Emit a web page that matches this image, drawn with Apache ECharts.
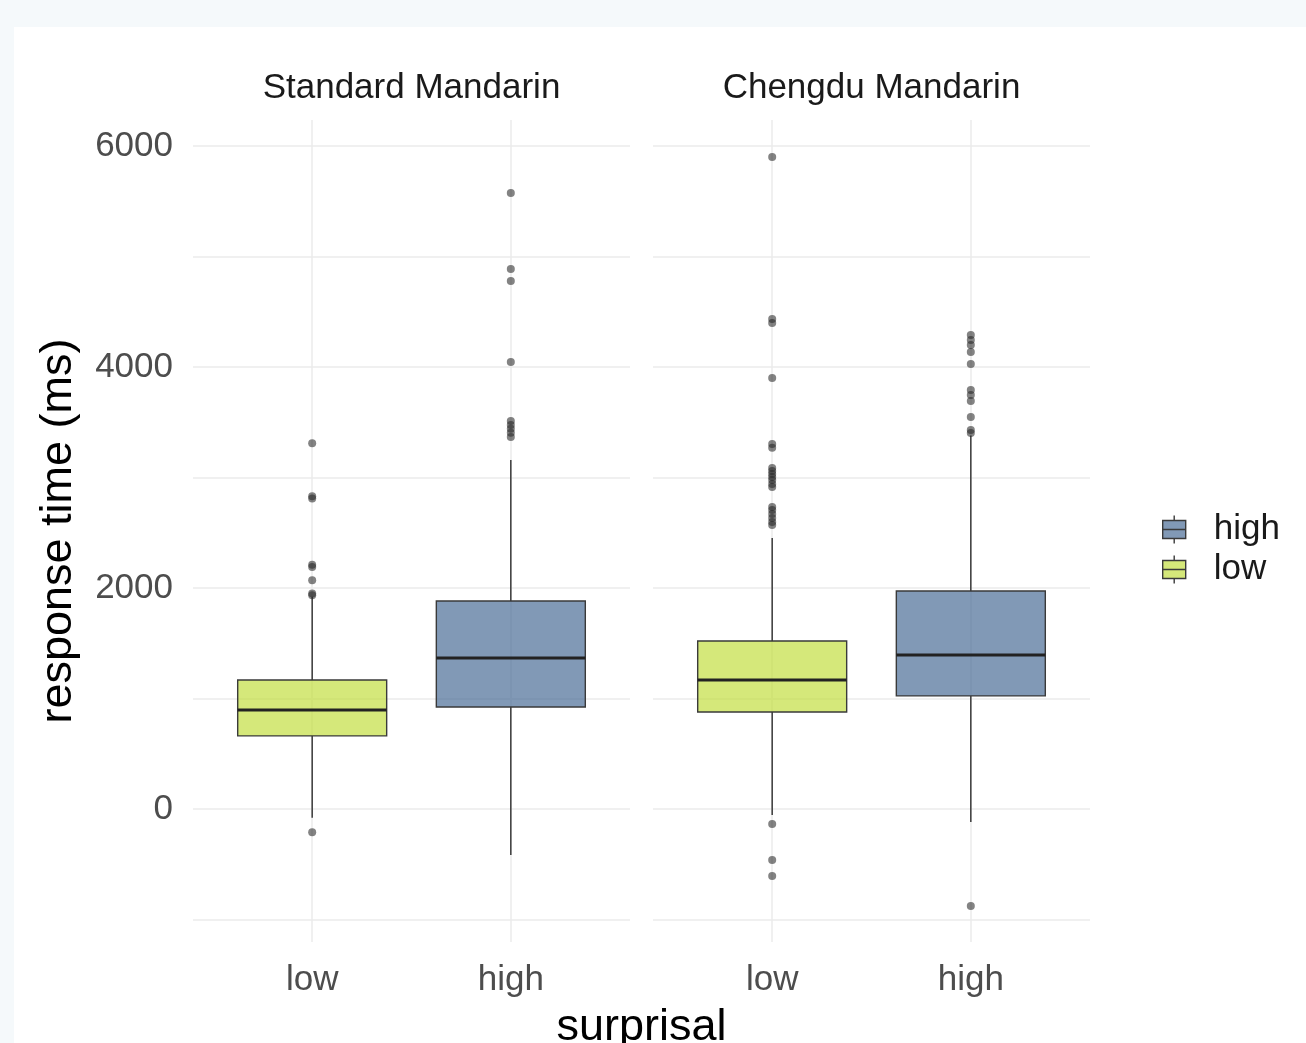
<!DOCTYPE html>
<html>
<head>
<meta charset="utf-8">
<script src="https://cdn.jsdelivr.net/npm/echarts@6/dist/echarts.min.js"></script>
<style>
  html, body { margin: 0; padding: 0; background: #f5f9fb; }
  #card { position: absolute; left: 14px; top: 27px; right: 0; bottom: 0; background: #ffffff; }
  #chart { position: absolute; left: 0; top: 0; width: 1306px; height: 1043px; }
</style>
</head>
<body>
<div id="card"></div>
<div id="chart"></div>
<script>
// ---- data ----
const categories = ['low', 'high'];
const facets = ['Standard Mandarin', 'Chengdu Mandarin'];
const yTickLabels = [0, 2000, 4000, 6000];
const yGridValues = [-1000, 0, 1000, 2000, 3000, 4000, 5000, 6000];

// [lower whisker, Q1, median, Q3, upper whisker]
const stdLowBox  = [-80, 661, 896, 1167, 1920];
const stdHighBox = [-416, 923, 1367, 1882, 3158];
const cdLowBox   = [-54, 878, 1167, 1520, 2452];
const cdHighBox  = [-118, 1023, 1394, 1973, 3380];

const stdLowOut  = [3310, 2830, 2810, 2210, 2190, 2070, 1950, 1935, -210];
const stdHighOut = [5575, 4887, 4778, 4045, 3511, 3475, 3440, 3405, 3367];
const cdLowOut   = [5900, 4434, 4398, 3900, 3303, 3270, 3086, 3059, 3032, 3005, 2977, 2941, 2914,
                    2733, 2706, 2670, 2633, 2597, 2570, -136, -462, -606];
const cdHighOut  = [4290, 4244, 4199, 4136, 4027, 3792, 3747, 3692, 3548, 3430, 3403, -878];

// ---- styling ----
const FONT = "'Liberation Sans', Arial, Helvetica, sans-serif";
const lowColor = 'rgba(195,222,65,0.7)';
const highColor = 'rgba(75,109,151,0.7)';
const gridColor = '#ebebeb';

const chart = echarts.init(document.getElementById('chart'), null, { renderer: 'canvas' });

function renderBox(params, api) {
  const x = api.value(0);
  const lo = api.coord([x, api.value(1)]);
  const q1 = api.coord([x, api.value(2)]);
  const med = api.coord([x, api.value(3)]);
  const q3 = api.coord([x, api.value(4)]);
  const hi = api.coord([x, api.value(5)]);
  const half = api.size([0.375, 0])[0];
  const cx = q1[0];
  const fill = api.visual('color');
  return {
    type: 'group',
    children: [
      { type: 'line', shape: { x1: cx, y1: q3[1], x2: cx, y2: hi[1] }, style: { stroke: '#3a3a3a', lineWidth: 1.5 } },
      { type: 'line', shape: { x1: cx, y1: q1[1], x2: cx, y2: lo[1] }, style: { stroke: '#3a3a3a', lineWidth: 1.5 } },
      { type: 'rect', shape: { x: cx - half, y: q3[1], width: 2 * half, height: q1[1] - q3[1] },
        style: { fill: fill, stroke: '#3a3a3a', lineWidth: 1.4 } },
      { type: 'line', shape: { x1: cx - half, y1: med[1], x2: cx + half, y2: med[1] }, style: { stroke: '#222', lineWidth: 3 } }
    ]
  };
}

const gridLefts = [193, 653];
const grids = gridLefts.map(l => ({ left: l, width: 437, top: 120, height: 822 }));

const xAxes = grids.map((g, i) => ({
  gridIndex: i, type: 'value', min: 0.4, max: 2.6,
  axisLine: { show: false },
  axisTick: { show: false, customValues: [1, 2] },
  axisLabel: { customValues: [1, 2], formatter: v => categories[Math.round(v) - 1],
               fontSize: 35, color: '#4d4d4d', fontFamily: FONT, margin: 21 },
  splitLine: { show: true, lineStyle: { color: gridColor, width: 1.5 } }
}));

const yAxes = grids.map((g, i) => ({
  gridIndex: i, type: 'value', min: -1204, max: 6235,
  axisLine: { show: false },
  axisTick: { show: false, customValues: yGridValues },
  axisLabel: { show: i === 0, customValues: yTickLabels, formatter: v => String(v),
               fontSize: 35, color: '#4d4d4d', fontFamily: FONT, margin: 20 },
  splitLine: { show: true, lineStyle: { color: gridColor, width: 1.5 } },
  name: i === 0 ? 'response time (ms)' : '',
  nameLocation: 'middle', nameRotate: 90, nameGap: 112,
  nameTextStyle: { fontSize: 45, color: '#000', fontFamily: FONT }
}));

function boxSeries(name, idx, xPos, box, color) {
  return {
    type: 'custom', name: name, xAxisIndex: idx, yAxisIndex: idx,
    itemStyle: { color: color },
    renderItem: renderBox,
    encode: { x: 0, y: [1, 2, 3, 4, 5] },
    data: [[xPos].concat(box)],
    z: 3
  };
}
function outSeries(idx, xPos, vals) {
  return {
    type: 'scatter', name: 'outliers', xAxisIndex: idx, yAxisIndex: idx,
    symbolSize: 8, itemStyle: { color: 'rgba(40,40,40,0.72)' },
    data: vals.map(v => [xPos, v]), z: 4
  };
}

const series = [
  boxSeries('low', 0, 1, stdLowBox, lowColor),
  boxSeries('high', 0, 2, stdHighBox, highColor),
  boxSeries('low', 1, 1, cdLowBox, lowColor),
  boxSeries('high', 1, 2, cdHighBox, highColor),
  outSeries(0, 1, stdLowOut),
  outSeries(0, 2, stdHighOut),
  outSeries(1, 1, cdLowOut),
  outSeries(1, 2, cdHighOut)
];

const legendIcon = 'path://M11.5,0L11.5,5M0,5L23,5L23,14L0,14ZM0,14L23,14L23,23L0,23ZM11.5,23L11.5,28M46,0L46,0';

chart.setOption({
  animation: false,
  backgroundColor: 'transparent',
  textStyle: { fontFamily: FONT },
  title: [
    { text: facets[0], left: 411.5, top: 71, textAlign: 'center', padding: 0,
      textStyle: { fontSize: 35, fontWeight: 'normal', color: '#1a1a1a', fontFamily: FONT } },
    { text: facets[1], left: 871.5, top: 71, textAlign: 'center', padding: 0,
      textStyle: { fontSize: 35, fontWeight: 'normal', color: '#1a1a1a', fontFamily: FONT } },
    { text: 'surprisal', left: 641.5, top: 1005, textAlign: 'center', padding: 0,
      textStyle: { fontSize: 45, fontWeight: 'normal', color: '#000', fontFamily: FONT } }
  ],
  legend: {
    data: ['high', 'low'], orient: 'vertical', left: 1162, top: 512, padding: 0,
    itemGap: 5, itemWidth: 46, itemHeight: 28, icon: legendIcon,
    itemStyle: { borderColor: '#3a3a3a', borderWidth: 1.4 },
    textStyle: { fontSize: 35, lineHeight: 28, color: '#1a1a1a', fontFamily: FONT },
    selectedMode: false
  },
  grid: grids,
  xAxis: xAxes,
  yAxis: yAxes,
  series: series
});
</script>
</body>
</html>
